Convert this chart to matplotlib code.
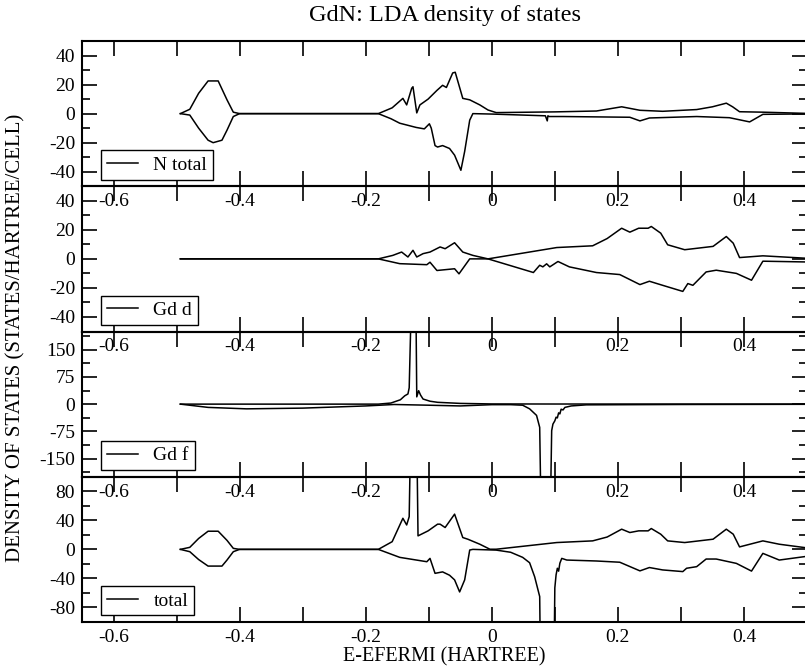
import matplotlib
matplotlib.use("Agg")
import matplotlib.pyplot as plt
from matplotlib.ticker import MultipleLocator, FuncFormatter

plt.rcParams['font.family'] = ['Liberation Serif', 'DejaVu Serif']
plt.rcParams['axes.unicode_minus'] = False

# N total (spin up / spin down), energies in Hartree
nt_up_e = [-0.494, -0.479, -0.465, -0.450, -0.434, -0.420, -0.410, -0.400, -0.180, -0.158,
           -0.141, -0.135, -0.127, -0.125, -0.119, -0.114, -0.101, -0.087, -0.078, -0.072,
           -0.062, -0.058, -0.046, -0.035, -0.019, -0.006, 0.007, 0.100, 0.166, 0.206,
           0.235, 0.271, 0.325, 0.350, 0.372, 0.382, 0.393, 0.430, 0.496]
nt_up = [0, 3, 14, 22.5, 22.5, 9.5, 1, 0, 0, 4,
         10.5, 6, 17.5, 18.5, 0.5, 6, 10, 16, 19.5, 18,
         28, 28.5, 10.5, 9.5, 6, 2.5, 0.7, 1.2, 1.8, 4.7,
         2.3, 1.6, 2.8, 4.7, 7.2, 4.7, 1.3, 1, 0.2]
nt_dn_e = [-0.494, -0.479, -0.465, -0.450, -0.442, -0.428, -0.420, -0.410, -0.400, -0.180,
           -0.160, -0.146, -0.120, -0.107, -0.099, -0.096, -0.090, -0.086, -0.078, -0.067,
           -0.059, -0.049, -0.043, -0.035, -0.030, 0.000, 0.085, 0.088, 0.089, 0.091,
           0.113, 0.219, 0.235, 0.250, 0.325, 0.377, 0.409, 0.430, 0.496]
nt_dn = [0, -1, -10, -18.3, -20, -18.3, -11.4, -2, 0, 0,
         -3.5, -6.6, -9.5, -10.5, -7, -10, -22, -23, -22, -24,
         -28.6, -39, -26, -4.5, 0, -0.3, -1.5, -5, -1.5, -2,
         -2, -2.5, -5, -3, -2, -2.8, -5.7, -0.5, -0.2]

# Gd d
gdd_a_e = [-0.494, -0.180, -0.157, -0.143, -0.133, -0.125, -0.119, -0.109, -0.098, -0.082,
           -0.074, -0.059, -0.046, -0.030, -0.006, 0.060, 0.066, 0.076, 0.081, 0.087,
           0.092, 0.105, 0.123, 0.166, 0.203, 0.235, 0.250, 0.271, 0.303, 0.311,
           0.319, 0.340, 0.356, 0.388, 0.412, 0.430, 0.496]
gdd_a = [0, 0, 2.4, 4.7, 1.3, 5.9, 1.3, 3.6, 4.7, 8.2,
         7, 11.1, 4.7, 2.4, 0, -8.6, -9.4, -4.4, -5.5, -3.4,
         -5.5, -1.8, -5.5, -9.4, -10.8, -17.7, -15.4, -18.2, -22.4, -17,
         -18.2, -9, -7.8, -10, -14.7, -1.6, -2.1]
gdd_b_e = [-0.494, -0.180, -0.146, -0.103, -0.098, -0.087, -0.059, -0.052, -0.035, -0.006,
           0.103, 0.160, 0.183, 0.206, 0.219, 0.233, 0.248, 0.253, 0.268, 0.279,
           0.306, 0.351, 0.372, 0.383, 0.393, 0.430, 0.496]
gdd_b = [0, 0, -3.3, -4, -2.3, -8, -6.8, -10.3, 0, 0,
         7.8, 9, 14, 21.1, 18.4, 21.1, 21.1, 22.3, 17.7, 9.7,
         6.3, 8.6, 15.4, 10.8, 0.9, 2.1, 0.5]

# Gd f
gdf_up_e = [-0.494, -0.180, -0.160, -0.145, -0.138, -0.133, -0.131, -0.126, -0.121, -0.119,
            -0.116, -0.113, -0.109, -0.098, -0.086, -0.050, 0.000, 0.100, 0.496]
gdf_up = [0, 0, 3, 12, 23, 28, 45, 400, 400, 20,
          37, 25, 14, 8, 5, 2, 0.5, 0.3, 0.2]
gdf_dn_e = [-0.494, -0.450, -0.389, -0.300, -0.200, -0.155, -0.100, -0.050, 0.000, 0.030,
            0.049, 0.060, 0.071, 0.076, 0.079, 0.092, 0.095, 0.097, 0.100, 0.102,
            0.104, 0.106, 0.108, 0.110, 0.113, 0.116, 0.126, 0.150, 0.300, 0.496]
gdf_dn = [0, -9, -13, -11, -5, -1, -3, -5, -1.5, -1.5,
          -3, -13, -31, -64, -400, -400, -73, -55, -46, -36,
          -38, -24, -27, -14, -16, -9, -5, -2, -1, -0.5]

# total
tot_up_e = [-0.494, -0.479, -0.465, -0.450, -0.434, -0.420, -0.410, -0.400, -0.180, -0.158,
            -0.141, -0.135, -0.131, -0.126, -0.121, -0.117, -0.101, -0.086, -0.082, -0.074,
            -0.059, -0.046, -0.038, -0.019, -0.003, 0.007, 0.103, 0.160, 0.183, 0.206,
            0.219, 0.233, 0.248, 0.253, 0.268, 0.279, 0.306, 0.351, 0.372, 0.383,
            0.393, 0.430, 0.456, 0.496]
tot_up = [0, 2.8, 15, 25, 25, 12.4, 1.4, 0, 0, 10.6,
          42.8, 33.6, 45, 300, 300, 18.6, 25.5, 34.7, 34.7, 30.1,
          48.5, 16.3, 14, 7.1, 0.2, 0.2, 9.4, 11.7, 17, 27.8,
          23.2, 25.5, 25.5, 28.7, 20.9, 11.7, 9.4, 14, 27.8, 20.9,
          3.4, 11.7, 7.1, 2.5]
tot_dn_e = [-0.494, -0.479, -0.465, -0.450, -0.428, -0.420, -0.410, -0.400, -0.180, -0.146,
            -0.103, -0.098, -0.090, -0.078, -0.067, -0.059, -0.051, -0.043, -0.035, -0.030,
            0.007, 0.030, 0.049, 0.060, 0.068, 0.076, 0.079, 0.097, 0.100, 0.102,
            0.104, 0.106, 0.108, 0.111, 0.119, 0.166, 0.203, 0.235, 0.250, 0.271,
            0.303, 0.309, 0.325, 0.340, 0.356, 0.388, 0.412, 0.430, 0.456, 0.496]
tot_dn = [0, -3.2, -14, -23, -23, -14.7, -3.2, 0, 0, -11,
          -17, -12.4, -33, -31, -35.6, -42, -58.6, -42, -0.9, 0,
          -1, -4, -11, -18.4, -37.7, -65, -300, -300, -53, -35,
          -26, -30, -19, -12.4, -14.7, -16, -17.7, -29.6, -25, -28.3,
          -30.6, -26, -23.8, -13.3, -13.3, -19.3, -29.9, -5.5, -14.7, -10]

panels = [
    ("N total", nt_up_e, nt_up, nt_dn_e, nt_dn, 50, 20, 10),
    ("Gd d", gdd_a_e, gdd_a, gdd_b_e, gdd_b, 50, 20, 10),
    ("Gd f", gdf_up_e, gdf_up, gdf_dn_e, gdf_dn, 200, 75, 37.5),
    ("total", tot_up_e, tot_up, tot_dn_e, tot_dn, 100, 40, 20),
]

W, H = 805, 671
fig = plt.figure(figsize=(W / 100, H / 100), dpi=100)
left, right, top, bottom = 82, 807, 41, 622
ph = (bottom - top) / 4.0
fmt = FuncFormatter(lambda v, p: '%g' % round(v, 6))

for i, (name, e1, v1, e2, v2, ylim, major, minor) in enumerate(panels):
    yb = top + ph * (i + 1)
    ax = fig.add_axes([left / W, 1 - yb / H, (right - left) / W, ph / H])
    ax.patch.set_alpha(0)
    ax.plot(e1, v1, color='black', lw=1.1, label=name)
    ax.plot(e2, v2, color='black', lw=1.1)
    ax.set_xlim(-0.65, 0.5)
    ax.set_ylim(-ylim, ylim)
    ax.xaxis.set_major_locator(MultipleLocator(0.2))
    ax.xaxis.set_minor_locator(MultipleLocator(0.1))
    ax.yaxis.set_major_locator(MultipleLocator(major))
    ax.yaxis.set_minor_locator(MultipleLocator(minor))
    ax.xaxis.set_major_formatter(fmt)
    ax.yaxis.set_major_formatter(fmt)
    ax.tick_params(which='both', direction='in', top=True, right=True, width=1.2,
                   labelsize=14, colors='black')
    ax.tick_params(axis='x', which='both', length=11, pad=5)
    ax.tick_params(axis='y', which='major', length=11, pad=5)
    ax.tick_params(axis='y', which='minor', length=5.5)
    for s in ax.spines.values():
        s.set_linewidth(1.5)
    leg = ax.legend(loc='lower left', bbox_to_anchor=(0.026, 0.045), borderaxespad=0,
                    fancybox=False, edgecolor='black', framealpha=1, fontsize=14,
                    handlelength=1.6, handletextpad=0.8, borderpad=0.3)
    leg.get_frame().set_linewidth(1.0)

fig.text((left + right) / 2 / W, 1 - 15 / H, "GdN: LDA density of states",
         ha='center', va='center', fontsize=17.5)
fig.text((left + right) / 2 / W, 1 - 657 / H, "E-EFERMI (HARTREE)",
         ha='center', va='center', fontsize=14.5)
fig.text(16 / W, 1 - 338 / H, "DENSITY OF STATES (STATES/HARTREE/CELL)",
         ha='center', va='center', rotation=90, fontsize=15)

fig.savefig("out.png", dpi=100)
